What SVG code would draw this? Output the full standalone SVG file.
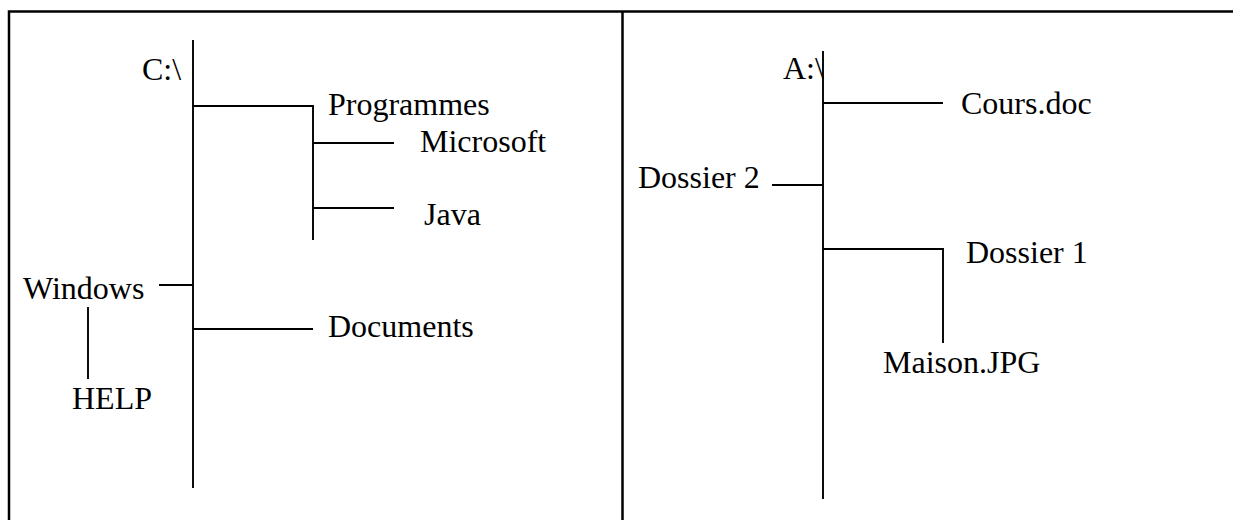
<svg xmlns="http://www.w3.org/2000/svg" width="1233" height="520" viewBox="0 0 1233 520">
  <style>
    .lbl { font-family: "Liberation Serif", "Times New Roman", serif; font-size: 32px; fill: #000; }
    .frame { stroke: #000; stroke-width: 2.5; fill: none; }
    .edge { stroke: #000; stroke-width: 1.9; fill: none; }
  </style>
  <rect x="0" y="0" width="1233" height="520" fill="#fff"/>
  <g id="frame">
    <path class="frame" d="M9,520 V11.5 H1233"/>
    <path class="frame" d="M622.5,11.5 V520"/>
  </g>
  <g id="connectors">
    <path class="edge" d="M193,40 V488"/>
    <path class="edge" d="M193,106 H313 V240"/>
    <path class="edge" d="M313,143 H394"/>
    <path class="edge" d="M313,208 H394"/>
    <path class="edge" d="M159,285 H193"/>
    <path class="edge" d="M88,307 V379"/>
    <path class="edge" d="M193,329 H313"/>
    <path class="edge" d="M823,51 V499"/>
    <path class="edge" d="M823,103 H943"/>
    <path class="edge" d="M772,185 H823"/>
    <path class="edge" d="M823,249 H943 V343"/>
  </g>
  <g id="node-c"><text class="lbl" x="142" y="80">C:\</text></g>
  <g id="node-programmes"><text class="lbl" x="328" y="115">Programmes</text></g>
  <g id="node-microsoft"><text class="lbl" x="420" y="152">Microsoft</text></g>
  <g id="node-java"><text class="lbl" x="424" y="225">Java</text></g>
  <g id="node-windows"><text class="lbl" x="23" y="299">Windows</text></g>
  <g id="node-help"><text class="lbl" x="72" y="409">HELP</text></g>
  <g id="node-documents"><text class="lbl" x="328" y="337">Documents</text></g>
  <g id="node-a"><text class="lbl" x="783" y="79">A:\</text></g>
  <g id="node-cours"><text class="lbl" x="961" y="114">Cours.doc</text></g>
  <g id="node-dossier2"><text class="lbl" x="638" y="188">Dossier 2</text></g>
  <g id="node-dossier1"><text class="lbl" x="966" y="263">Dossier 1</text></g>
  <g id="node-maison"><text class="lbl" x="883" y="373">Maison.JPG</text></g>
</svg>
